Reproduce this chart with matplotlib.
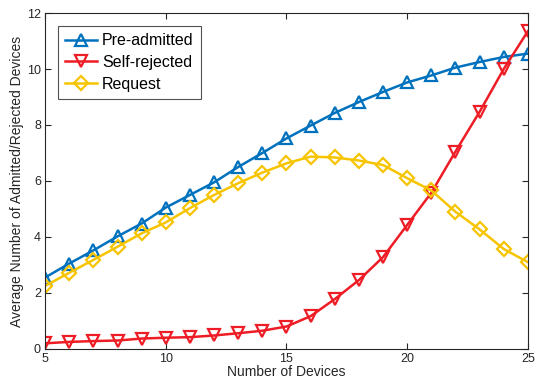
import matplotlib
matplotlib.use("Agg")
import matplotlib.pyplot as plt

plt.rcParams['font.family'] = ['Liberation Sans', 'DejaVu Sans']

devices = list(range(5, 26))
pre_admitted = [2.55, 3.05, 3.52, 4.02, 4.48, 5.05, 5.5, 5.95, 6.5, 7.0, 7.52,
                7.98, 8.43, 8.82, 9.18, 9.52, 9.77, 10.05, 10.25, 10.43, 10.55]
self_rejected = [0.2, 0.25, 0.28, 0.3, 0.37, 0.4, 0.42, 0.48, 0.56, 0.65, 0.8,
                 1.17, 1.78, 2.46, 3.28, 4.43, 5.58, 7.05, 8.47, 10.0, 11.35]
request = [2.25, 2.72, 3.18, 3.65, 4.13, 4.52, 5.03, 5.5, 5.92, 6.3, 6.63,
           6.87, 6.84, 6.73, 6.57, 6.1, 5.66, 4.9, 4.27, 3.57, 3.1]

series_names = ['Pre-admitted', 'Self-rejected', 'Request']
colors = ['#0072BD', '#EE1C25', '#F7C400']
markers = ['^', 'v', 'D']

fig = plt.figure(figsize=(5.37, 3.83), dpi=100)
ax = fig.add_axes([0.084, 0.089, 0.899, 0.877])

for vals, name, c, m in zip([pre_admitted, self_rejected, request], series_names, colors, markers):
    ms = 7 if m == 'D' else 9
    ax.plot(devices, vals, color=c, marker=m, markersize=ms, markerfacecolor='none',
            markeredgewidth=1.6, linewidth=1.8, label=name)

ax.set_xlim(5, 25)
ax.set_ylim(0, 12)
ax.set_xticks([5, 10, 15, 20, 25])
ax.set_yticks([0, 2, 4, 6, 8, 10, 12])
ax.tick_params(direction='in', top=True, right=True, labelsize=9, colors='#262626',
               length=4, width=0.8, pad=3)
for s in ax.spines.values():
    s.set_color('#262626')
    s.set_linewidth(0.8)

ax.set_xlabel('Number of Devices', fontsize=10, color='#262626', labelpad=0)
ax.set_ylabel('Average Number of Admitted/Rejected Devices', fontsize=10, color='#262626', labelpad=2)

leg = ax.legend(loc='upper left', fontsize=11.5, frameon=True, fancybox=False,
                edgecolor='#262626', handlelength=2.0, borderaxespad=0.5,
                labelspacing=0.42, handletextpad=0.3, borderpad=0.45,
                bbox_to_anchor=(0.01, 0.985))
leg.get_frame().set_linewidth(0.8)

fig.savefig('out.png', dpi=100)
